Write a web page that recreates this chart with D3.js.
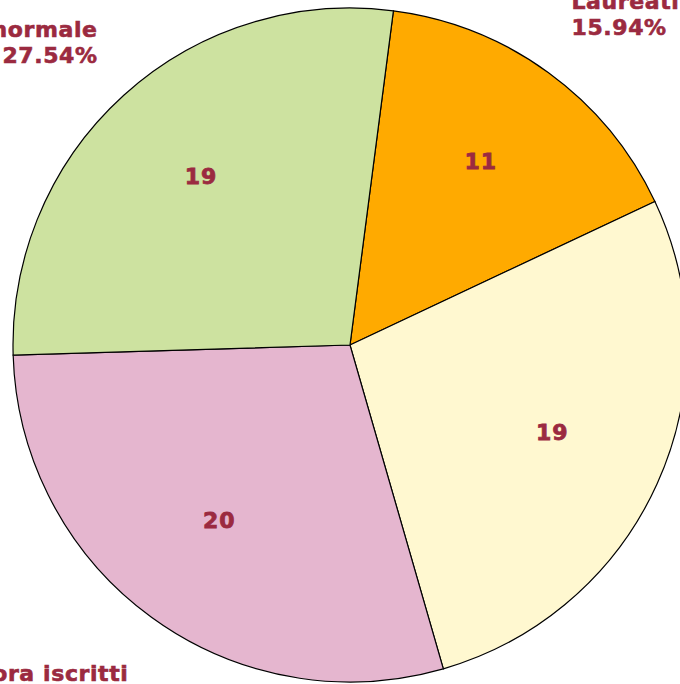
<!DOCTYPE html>
<html>
<head>
<meta charset="utf-8">
<script src="https://cdn.jsdelivr.net/npm/d3@7"></script>
<style>
  body { margin: 0; background: #fff; }
  svg { display: block; }
</style>
</head>
<body>
<script>
var categories = ["Laureati", "Abbandoni", "Ancora iscritti", "Durata normale"];
var values = [11, 19, 20, 19];
var colors = ["#ffaa00", "#fff8d0", "#e5b6cf", "#cde2a0"];

var svg = d3.select("body")
    .append("svg")
    .attr("width", 680)
    .attr("height", 684);

var cx = 350, cy = 345, radius = 337;
var g = svg.append("g").attr("transform", "translate(" + cx + "," + cy + ")");

var data = categories.map(function(c, i) {
    return {name: c, value: values[i], color: colors[i]};
});
var total = d3.sum(values);

var startA = 7.4 * Math.PI / 180;
var pie = d3.pie()
    .sort(null)
    .value(function(d) { return d.value; })
    .startAngle(startA)
    .endAngle(startA + 2 * Math.PI);

var arc = d3.arc().innerRadius(0).outerRadius(radius);
var valueArc = d3.arc().innerRadius(222).outerRadius(222);

var arcs = pie(data);

g.selectAll("path.slice")
    .data(arcs)
    .enter()
    .append("path")
    .attr("class", "slice")
    .attr("d", arc)
    .attr("fill", function(d) { return d.data.color; })
    .attr("stroke", "#000")
    .attr("stroke-width", 1.2);

var textColor = "#9b2a40";

// values inside slices
g.selectAll("text.val")
    .data(arcs)
    .enter()
    .append("text")
    .attr("class", "val")
    .attr("x", function(d) { return valueArc.centroid(d)[0]; })
    .attr("y", function(d) { return valueArc.centroid(d)[1]; })
    .attr("dy", "0.15em")
    .attr("text-anchor", "middle")
    .style("font-family", "'DejaVu Sans', Verdana, sans-serif")
    .style("font-weight", "bold")
    .style("font-size", "22px")
    .style("letter-spacing", "1px")
    .attr("fill", textColor)
    .attr("stroke", textColor)
    .attr("stroke-width", 0.8)
    .text(function(d) { return d.data.value; });

// outer labels: name + percentage
var rx = 376, ry = 416;
var fmt = d3.format(".2f");
var outer = g.selectAll("text.lab")
    .data(arcs)
    .enter()
    .append("text")
    .attr("class", "lab")
    .attr("text-anchor", function(d) {
        var m = (d.startAngle + d.endAngle) / 2;
        return Math.sin(m) >= 0 ? "start" : "end";
    })
    .style("font-family", "'DejaVu Sans', Verdana, sans-serif")
    .style("font-weight", "bold")
    .style("font-size", "22px")
    .style("letter-spacing", "0.6px")
    .attr("fill", textColor)
    .attr("stroke", textColor)
    .attr("stroke-width", 0.6);

outer.each(function(d) {
    var m = (d.startAngle + d.endAngle) / 2;
    var x = rx * Math.sin(m);
    var y = -ry * Math.cos(m);
    var t = d3.select(this);
    t.append("tspan").attr("x", x).attr("y", y).text(d.data.name);
    t.append("tspan").attr("x", x).attr("dy", 26).text(fmt(d.data.value / total * 100) + "%");
});
</script>
</body>
</html>
